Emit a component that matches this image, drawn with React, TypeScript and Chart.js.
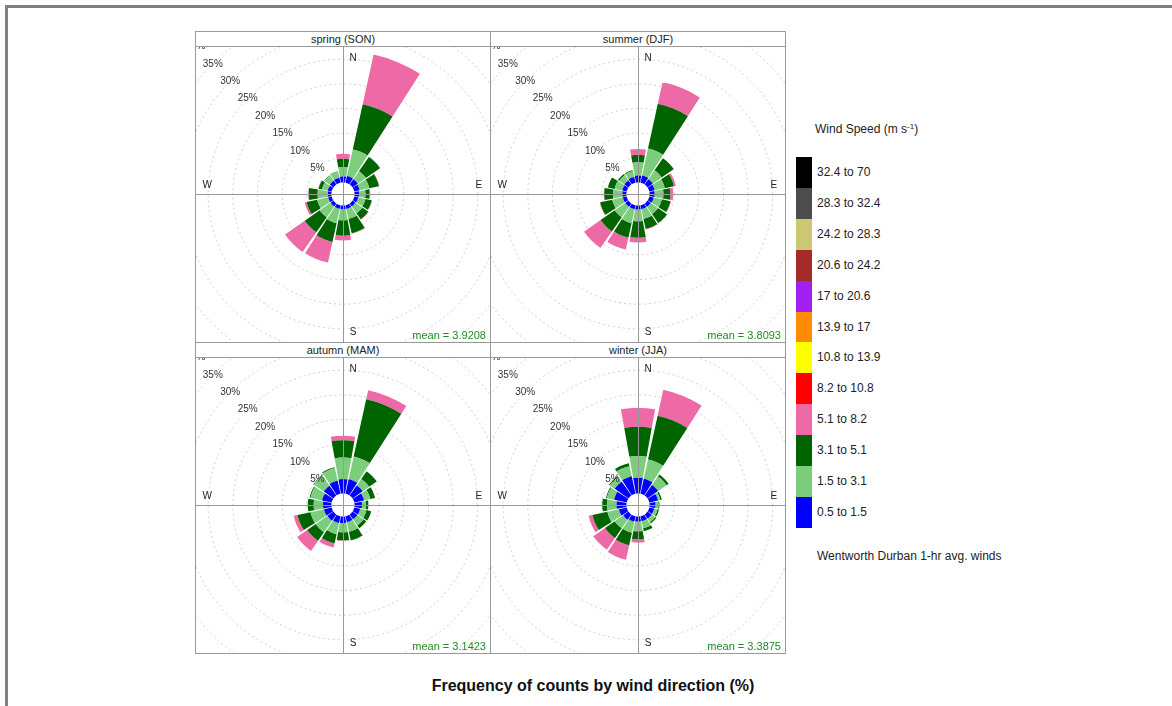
import React, { useEffect, useRef } from 'react';
import { Chart, PolarAreaController, registerables } from 'chart.js';

// ---------- data ----------
const DIRECTIONS = ['N', 'NNE', 'NE', 'ENE', 'E', 'ESE', 'SE', 'SSE', 'S', 'SSW', 'SW', 'WSW', 'W', 'WNW', 'NW', 'NNW'];
const SPEED_LABELS = ['0.5 to 1.5', '1.5 to 3.1', '3.1 to 5.1', '5.1 to 8.2', '8.2 to 10.8', '10.8 to 13.9', '13.9 to 17', '17 to 20.6', '20.6 to 24.2', '24.2 to 28.3', '28.3 to 32.4', '32.4 to 70'];
const SPEED_COLORS = ['#0000FF', '#7CCD7C', '#006400', '#EE6AA7', '#FF0000', '#FFFF00', '#FF8C00', '#A020F0', '#A52A2A', '#CDC673', '#4D4D4D', '#000000'];
const GRID_PERCENTS = [5, 10, 15, 20, 25, 30, 35, 40];

// spring (SON) – % per direction per speed bin
const spring_05_15 = [1.2, 1.4, 1.3, 1.1, 0.9, 0.8, 0.7, 0.7, 0.7, 0.7, 0.7, 0.7, 0.7, 0.8, 0.9, 1.0];
const spring_15_31 = [1.9, 5.5, 2.0, 2.0, 1.3, 1.5, 1.7, 2.1, 2.3, 3.0, 2.7, 2.3, 2.1, 1.2, 1.3, 1.3];
const spring_31_51 = [1.7, 9.4, 3.5, 2.0, 0.8, 1.3, 1.5, 3.0, 3.1, 3.9, 3.7, 2.2, 1.8, 0.7, 0.1, 0.1];
const spring_51_82 = [1.0, 10.3, 0.1, 0.1, 0.2, 0.1, 0.1, 0.1, 1.0, 4.3, 4.9, 0.4, 0.1, 0.1, 0, 0];

// summer (DJF)
const summer_05_15 = [1.4, 1.5, 1.3, 1.1, 1.0, 0.9, 0.8, 0.8, 0.8, 0.8, 0.8, 0.8, 0.8, 0.9, 1.0, 1.2];
const summer_15_31 = [2.7, 5.6, 2.2, 2.1, 1.8, 1.7, 1.8, 2.0, 2.4, 2.9, 2.6, 2.2, 1.9, 1.6, 1.3, 1.2];
const summer_31_51 = [1.5, 9.3, 3.0, 1.9, 1.4, 1.8, 2.2, 2.1, 3.3, 3.0, 3.5, 2.5, 1.8, 1.4, 0.3, 0.2];
const summer_51_82 = [1.2, 4.5, 0, 0.4, 0.6, 0.1, 0.1, 0.1, 1.0, 2.5, 4.1, 0.1, 0.1, 0, 0, 0];

// autumn (MAM)
const autumn_05_15 = [2.9, 3.0, 2.5, 2.0, 1.5, 1.2, 1.2, 1.2, 1.3, 1.4, 1.5, 1.6, 1.7, 2.0, 2.4, 2.7];
const autumn_15_31 = [4.4, 4.7, 1.6, 1.3, 0.8, 1.3, 1.5, 2.0, 1.9, 2.3, 2.9, 2.8, 1.9, 2.4, 2.5, 2.6];
const autumn_31_51 = [3.5, 11.9, 1.9, 1.0, 0.5, 1.0, 0.7, 1.8, 1.6, 1.9, 2.1, 2.7, 1.2, 0.2, 0.1, 0.2];
const autumn_51_82 = [0.9, 1.9, 0, 0, 0, 0, 0, 0, 0.1, 0.9, 2.5, 0.8, 0, 0, 0, 0];

// winter (JJA)
const winter_05_15 = [3.2, 3.1, 2.6, 1.8, 1.2, 1.0, 1.0, 1.0, 1.0, 1.1, 1.3, 1.6, 2.0, 2.6, 3.4, 3.6];
const winter_15_31 = [4.4, 4.0, 2.1, 0.5, 0.6, 0.7, 0.9, 1.5, 2.0, 2.3, 2.1, 2.4, 1.9, 1.5, 1.2, 2.1];
const winter_31_51 = [5.9, 9.1, 0.5, 0.3, 0.2, 0.3, 0.3, 0.6, 1.6, 2.6, 2.4, 3.1, 1.0, 0.2, 0.2, 0.6];
const winter_51_82 = [3.9, 5.4, 0, 0, 0, 0, 0, 0, 0.7, 3.0, 2.9, 0.8, 0, 0, 0, 0];

const SEASON_TITLES = ['spring (SON)', 'summer (DJF)', 'autumn (MAM)', 'winter (JJA)'];
const SEASON_MEANS = ['3.9208', '3.8093', '3.1423', '3.3875'];
const SEASON_BINS = [
  [spring_05_15, spring_15_31, spring_31_51, spring_51_82],
  [summer_05_15, summer_15_31, summer_31_51, summer_51_82],
  [autumn_05_15, autumn_15_31, autumn_31_51, autumn_51_82],
  [winter_05_15, winter_15_31, winter_31_51, winter_51_82],
];

// ---------- stacked rose controller ----------
class StackedRoseController extends (PolarAreaController as any) {
  static id = 'stackedRose';
  updateElement(element: any, index: any, properties: any, mode: any) {
    if (properties && typeof index === 'number' && properties.outerRadius !== undefined) {
      const scale = (this as any)._cachedMeta.rScale;
      const ds: any = (this as any).getDataset();
      const base = ds.stackBase ? ds.stackBase[index] : 0;
      const seg = 0.9;
      const width = properties.endAngle - properties.startAngle;
      const shrink = (width * (1 - seg)) / 2;
      properties.startAngle += shrink;
      properties.endAngle -= shrink;
      properties.innerRadius = scale.getDistanceFromCenterForValue(base);
    }
    super.updateElement(element, index, properties, mode);
  }
}

Chart.register(...registerables, StackedRoseController as any);

const FONT = '"Liberation Sans", Arial, sans-serif';

const decorPlugin = {
  id: 'roseDecor',
  afterDatasetsDraw(chart: any) {
    const s = chart.scales.r;
    const ctx = chart.ctx;
    const cx = s.xCenter;
    const cy = s.yCenter;
    ctx.save();
    // axes
    ctx.strokeStyle = '#999999';
    ctx.lineWidth = 1;
    ctx.beginPath();
    ctx.moveTo(cx - s.drawingArea, cy + 0.5);
    ctx.lineTo(cx + s.drawingArea, cy + 0.5);
    ctx.moveTo(cx + 0.5, cy - s.drawingArea);
    ctx.lineTo(cx + 0.5, cy + s.drawingArea);
    ctx.stroke();
    // percent labels along NW
    ctx.font = '10px ' + FONT;
    ctx.fillStyle = '#333';
    ctx.textAlign = 'center';
    ctx.textBaseline = 'middle';
    GRID_PERCENTS.forEach((v) => {
      const r = s.getDistanceFromCenterForValue(v);
      ctx.fillText(v + '%', cx - r * Math.SQRT1_2, cy - r * Math.SQRT1_2);
    });
    // compass letters
    const upper = 143;
    ctx.fillStyle = '#222';
    ctx.fillText('N', cx + 0.07 * upper, cy - 0.95 * upper);
    ctx.fillText('S', cx + 0.07 * upper, cy + 0.97 * upper);
    ctx.fillText('W', cx - 0.95 * upper, cy - 0.06 * upper);
    ctx.fillText('E', cx + 0.95 * upper, cy - 0.06 * upper);
    ctx.restore();
  },
};

const CANVAS = 420;

function RosePanel({ idx }: { idx: number }) {
  const ref = useRef<HTMLCanvasElement>(null);
  const col = idx % 2;
  const row = Math.floor(idx / 2);
  const x0 = 195 + 295 * col;
  const stripY = 31 + 311 * row;
  const plotY = 46 + 311 * row;

  useEffect(() => {
    const bins = SEASON_BINS[idx];
    const cum: number[][] = [];
    bins.forEach((bin, k) => {
      cum.push(bin.map((v, i) => v + (k > 0 ? cum[k - 1][i] : 0)));
    });
    const datasets = cum.map((vals, k) => ({
      label: SPEED_LABELS[k],
      data: vals,
      stackBase: k === 0 ? vals.map(() => 0) : cum[k - 1],
      backgroundColor: SPEED_COLORS[k],
      borderWidth: 0,
    }));
    const chart = new Chart(ref.current as HTMLCanvasElement, {
      type: 'stackedRose' as any,
      data: { labels: DIRECTIONS, datasets: datasets as any },
      options: {
        responsive: false,
        animation: false,
        events: [],
        layout: { padding: 0 },
        plugins: { legend: { display: false }, tooltip: { enabled: false } },
        scales: {
          r: {
            type: 'radialLinear',
            min: -2.35,
            max: 40.25,
            startAngle: -11.25,
            ticks: { display: false },
            angleLines: { display: false },
            pointLabels: { display: false },
            grid: { circular: true, color: '#cdcdcd', lineWidth: 1 },
            border: { dash: [2, 3] },
            afterBuildTicks: (s: any) => {
              s.ticks = GRID_PERCENTS.map((v) => ({ value: v }));
            },
          },
        },
      } as any,
      plugins: [decorPlugin],
    });
    return () => chart.destroy();
  }, [idx]);

  return (
    <>
      <div
        style={{
          position: 'absolute', left: x0, top: stripY, width: 296, height: 16,
          boxSizing: 'border-box', border: '1px solid #999', background: '#fff',
          font: '11px ' + FONT, color: '#222', textAlign: 'center', lineHeight: '14px',
        }}
      >
        {SEASON_TITLES[idx]}
      </div>
      <div
        style={{
          position: 'absolute', left: x0, top: plotY, width: 296, height: 297,
          boxSizing: 'border-box', border: '1px solid #999', overflow: 'hidden', background: '#fff',
        }}
      >
        <canvas
          ref={ref}
          width={CANVAS}
          height={CANVAS}
          style={{ position: 'absolute', left: 147 - CANVAS / 2, top: 147 - CANVAS / 2, width: CANVAS, height: CANVAS }}
        />
        <div
          style={{
            position: 'absolute', right: 4, bottom: 1, font: '11px ' + FONT, color: '#228B22',
            whiteSpace: 'nowrap',
          }}
        >
          mean = {SEASON_MEANS[idx]}
        </div>
      </div>
    </>
  );
}

export default function App() {
  const legendOrder = SPEED_LABELS.map((_, i) => SPEED_LABELS.length - 1 - i);
  return (
    <div style={{ position: 'fixed', left: 0, top: 0, width: 1172, height: 706, background: '#fff', overflow: 'hidden', fontFamily: FONT }}>
      {/* outer frame */}
      <div style={{ position: 'absolute', left: 5, top: 5, width: 1167, height: 3, background: '#808080' }} />
      <div style={{ position: 'absolute', left: 5, top: 5, width: 3, height: 701, background: '#808080' }} />

      {[0, 1, 2, 3].map((i) => (
        <RosePanel key={i} idx={i} />
      ))}

      {/* legend */}
      <div style={{ position: 'absolute', left: 815, top: 122, font: '12px ' + FONT, color: '#222', whiteSpace: 'nowrap', lineHeight: '15px' }}>
        Wind Speed (m s<sup style={{ fontSize: 8, verticalAlign: 'top', position: 'relative', top: -3 }}>-1</sup>)
      </div>
      {legendOrder.map((k, j) => (
        <React.Fragment key={k}>
          <div style={{ position: 'absolute', left: 796, top: 157 + j * 30.9, width: 16, height: 31, background: SPEED_COLORS[k] }} />
          <div
            style={{
              position: 'absolute', left: 817, top: 157 + j * 30.9 + 8, font: '12px ' + FONT, color: '#222',
              whiteSpace: 'nowrap', lineHeight: '15px',
            }}
          >
            {SPEED_LABELS[k]}
          </div>
        </React.Fragment>
      ))}
      <div style={{ position: 'absolute', left: 817, top: 549, font: '12px ' + FONT, color: '#222', whiteSpace: 'nowrap', lineHeight: '15px' }}>
        Wentworth Durban 1-hr avg. winds
      </div>

      {/* x title */}
      <div
        style={{
          position: 'absolute', left: 343, width: 500, top: 676, textAlign: 'center',
          font: 'bold 16px ' + FONT, color: '#111', whiteSpace: 'nowrap', lineHeight: '20px',
        }}
      >
        Frequency of counts by wind direction (%)
      </div>
    </div>
  );
}
